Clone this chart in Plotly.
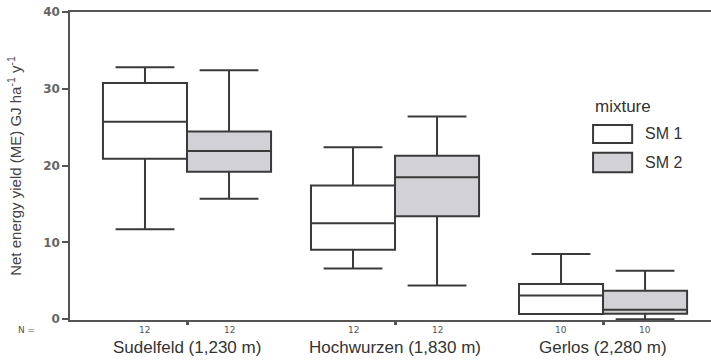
import plotly.graph_objects as go

sites = ["Sudelfeld (1,230 m)", "Hochwurzen (1,830 m)", "Gerlos (2,280 m)"]
n_counts = [12, 12, 10]

sm1_lower = [11.7, 6.6, 0.68]
sm1_q1 = [20.9, 9.05, 0.68]
sm1_median = [25.7, 12.5, 3.1]
sm1_q3 = [30.75, 17.4, 4.6]
sm1_upper = [32.8, 22.4, 8.5]

sm2_lower = [15.7, 4.4, 0.0]
sm2_q1 = [19.2, 13.4, 0.7]
sm2_median = [21.9, 18.5, 1.24]
sm2_q3 = [24.45, 21.3, 3.7]
sm2_upper = [32.4, 26.4, 6.3]

line_col = "#3a3a3a"
fig = go.Figure()
fig.add_trace(go.Box(
    name="SM 1", x=sites, q1=sm1_q1, median=sm1_median, q3=sm1_q3,
    lowerfence=sm1_lower, upperfence=sm1_upper,
    fillcolor="white", line=dict(color=line_col, width=2),
    whiskerwidth=0.7, boxpoints=False, showlegend=False, hoverinfo="skip"))
fig.add_trace(go.Box(
    name="SM 2", x=sites, q1=sm2_q1, median=sm2_median, q3=sm2_q3,
    lowerfence=sm2_lower, upperfence=sm2_upper,
    fillcolor="#d2d2d6", line=dict(color=line_col, width=2),
    whiskerwidth=0.7, boxpoints=False, showlegend=False, hoverinfo="skip"))

font_main = "Liberation Sans, Arial, sans-serif"
font_num = "DejaVu Sans, sans-serif"
annotations = []
for i, n in enumerate(n_counts):
    for off in (-0.202, 0.202):
        annotations.append(dict(x=i + off, y=-0.032, xref="x", yref="paper",
                                text=str(n), showarrow=False,
                                font=dict(size=9, color="#555", family=font_num),
                                yanchor="middle"))
for i, s in enumerate(sites):
    annotations.append(dict(x=i, y=-0.0877, xref="x", yref="paper", text=s,
                            showarrow=False, yanchor="middle",
                            font=dict(size=17, color="#333", family=font_main)))
annotations.append(dict(x=-0.085, y=-0.032, xref="paper", yref="paper", text="N =",
                        showarrow=False, font=dict(size=9, color="#555", family=font_num),
                        yanchor="middle"))
# legend
annotations.append(dict(x=0.816, y=0.692, xref="paper", yref="paper", text="mixture",
                        showarrow=False, xanchor="left", yanchor="middle",
                        font=dict(size=17, color="#333", family=font_main)))
annotations.append(dict(x=0.894, y=0.604, xref="paper", yref="paper", text="SM 1",
                        showarrow=False, xanchor="left", yanchor="middle",
                        font=dict(size=16, color="#333", family=font_main)))
annotations.append(dict(x=0.894, y=0.511, xref="paper", yref="paper", text="SM 2",
                        showarrow=False, xanchor="left", yanchor="middle",
                        font=dict(size=16, color="#333", family=font_main)))
shapes = [
    dict(type="rect", xref="paper", yref="paper", x0=0.816, x1=0.877, y0=0.575, y1=0.633,
         line=dict(color=line_col, width=2), fillcolor="white"),
    dict(type="rect", xref="paper", yref="paper", x0=0.816, x1=0.877, y0=0.480, y1=0.543,
         line=dict(color=line_col, width=2), fillcolor="#d2d2d6"),
]

fig.update_layout(
    width=711, height=361,
    margin=dict(l=70, r=0, t=12, b=41, autoexpand=False),
    paper_bgcolor="white", plot_bgcolor="white",
    boxmode="group", boxgap=0.192, boxgroupgap=0,
    annotations=annotations, shapes=shapes,
    font=dict(family=font_main, color="#333"),
)
fig.update_xaxes(
    type="category", range=[-0.5625, 2.519], automargin=False,
    showline=True, linecolor="#555", linewidth=1.5, mirror=True,
    ticks="outside", ticklen=3, tickwidth=3, tickcolor="#555",
    showgrid=False, zeroline=False, showticklabels=False,
)
fig.update_yaxes(
    range=[-0.1, 40], tickvals=[0, 10, 20, 30, 40], automargin=False,
    showline=True, linecolor="#555", linewidth=1.5,
    ticks="outside", ticklen=6, tickwidth=1.5, tickcolor="#555",
    showgrid=False, zeroline=False, ticklabeloverflow="allow",
    tickfont=dict(size=12, color="#666", family=font_num, weight="bold"),
    title=dict(text="Net energy yield (ME) GJ ha<sup>-1</sup> y<sup>-1</sup>",
               font=dict(size=15, color="#444", family=font_main), standoff=18),
)
fig.write_html("out.html", config={"displayModeBar": False},
               post_script="document.body.style.margin='0';document.body.style.overflow='hidden';")
